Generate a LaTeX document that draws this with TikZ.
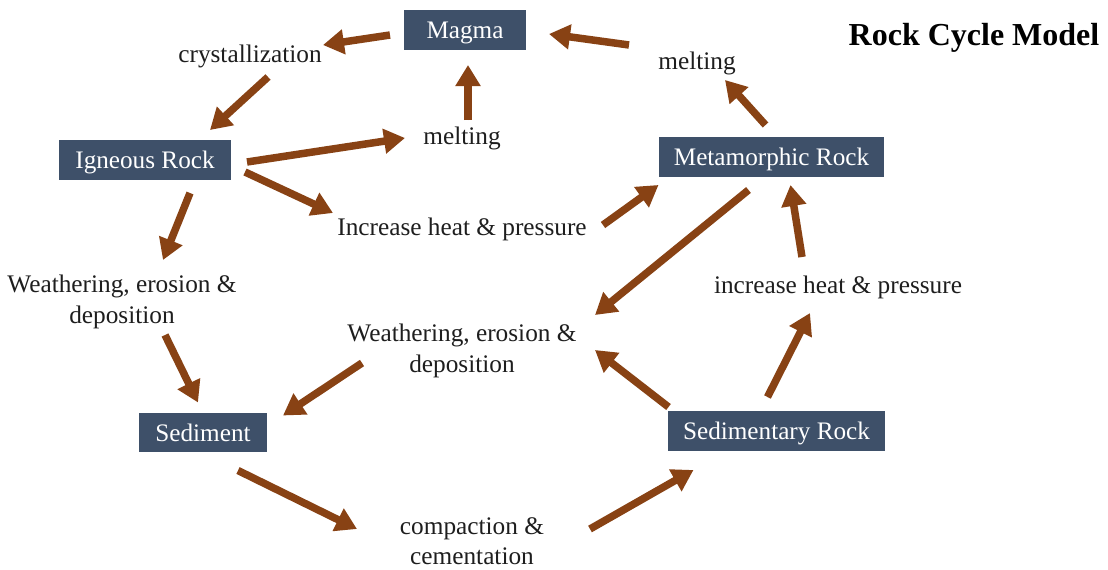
\documentclass[tikz,border=0pt]{standalone}
\usepackage{fontspec}
\setmainfont{Liberation Serif}
\usetikzlibrary{arrows.meta,calc}
\definecolor{boxblue}{RGB}{62,80,105}
\definecolor{rockbrown}{RGB}{136,66,20}
\definecolor{txt}{RGB}{30,30,30}
\begin{document}
\begin{tikzpicture}[x=1pt,y=-1pt,
  rock/.style={fill=boxblue,text=white,inner sep=0pt,minimum height=39.5pt,
    text height=19.5pt,text depth=2.5pt,font=\fontsize{25.2}{30}\selectfont},
  lbl/.style={text=txt,inner sep=0pt,align=center,font=\fontsize{25.3}{30.5}\selectfont},
  arr/.style={draw=rockbrown,line width=7.5pt,-{Triangle[length=21pt,width=24pt]},fill=rockbrown}]
\useasboundingbox[fill=white] (0,0) rectangle (1108,570);
% rock boxes
\node[rock,minimum width=122pt] (magma) at (465,30) {Magma};
\node[rock,minimum width=172pt] (igneous) at (145,160) {Igneous Rock};
\node[rock,minimum width=225pt] (meta) at (771.5,157) {Metamorphic Rock};
\node[rock,minimum width=128pt] (sediment) at (203,432.5) {Sediment};
\node[rock,minimum width=217pt] (sedrock) at (776.5,431) {Sedimentary Rock};
% process labels
\node[lbl] (cryst) at (250,56) {crystallization};
\node[lbl] (meltR) at (697,63) {melting};
\node[lbl] (meltM) at (462,138) {melting};
\node[lbl] (incheat) at (462,229) {Increase heat \& pressure};
\node[lbl] (weathL) at (122,302) {Weathering, erosion \&\\deposition};
\node[lbl] (weathM) at (462,351) {Weathering, erosion \&\\deposition};
\node[lbl] (incR) at (838,287) {increase heat \& pressure};
\node[lbl] (compact) at (472,541) {compaction \&\\cementation};
\node[inner sep=0pt,font=\fontsize{32}{36}\selectfont\bfseries] (title) at (974,38) {Rock Cycle Model};
% connectors
\draw[arr] ($(magma)+(-75,5)$) -- ($(cryst)+(73,-11)$);
\draw[arr] ($(cryst)+(18,21)$) -- ($(igneous)+(65,-30)$);
\draw[arr] ($(igneous)+(102,2)$) -- ($(meltM)+(-57,0)$);
\draw[arr] ($(meltM)+(6,-18)$) -- ($(magma)+(3,35)$);
\draw[arr] ($(igneous)+(100,12)$) -- ($(incheat)+(-129,-16)$);
\draw[arr] ($(incheat)+(141,-4)$) -- ($(meta)+(-113,28)$);
\draw[arr] ($(meta)+(-6,-32)$) -- ($(meltR)+(28,17)$);
\draw[arr] ($(meltR)+(-68,-18)$) -- ($(magma)+(84,4)$);
\draw[arr] ($(igneous)+(45,33)$) -- ($(weathL)+(41,-42)$);
\draw[arr] ($(weathL)+(43,33)$) -- ($(sediment)+(-5,-30)$);
\draw[arr] ($(meta)+(-23,33)$) -- ($(weathM)+(133,-36)$);
\draw[arr] ($(weathM)+(-100,12)$) -- ($(sediment)+(80,-17)$);
\draw[arr] ($(sedrock)+(-108,-24)$) -- ($(weathM)+(133,-1)$);
\draw[arr] ($(sedrock)+(-9,-34)$) -- ($(incR)+(-28,26)$);
\draw[arr] ($(incR)+(-36,-30)$) -- ($(meta)+(19,28)$);
\draw[arr] ($(sediment)+(35,38)$) -- ($(compact)+(-115,-12)$);
\draw[arr] ($(compact)+(118,-12)$) -- ($(sedrock)+(-83,39)$);
\end{tikzpicture}
\end{document}
